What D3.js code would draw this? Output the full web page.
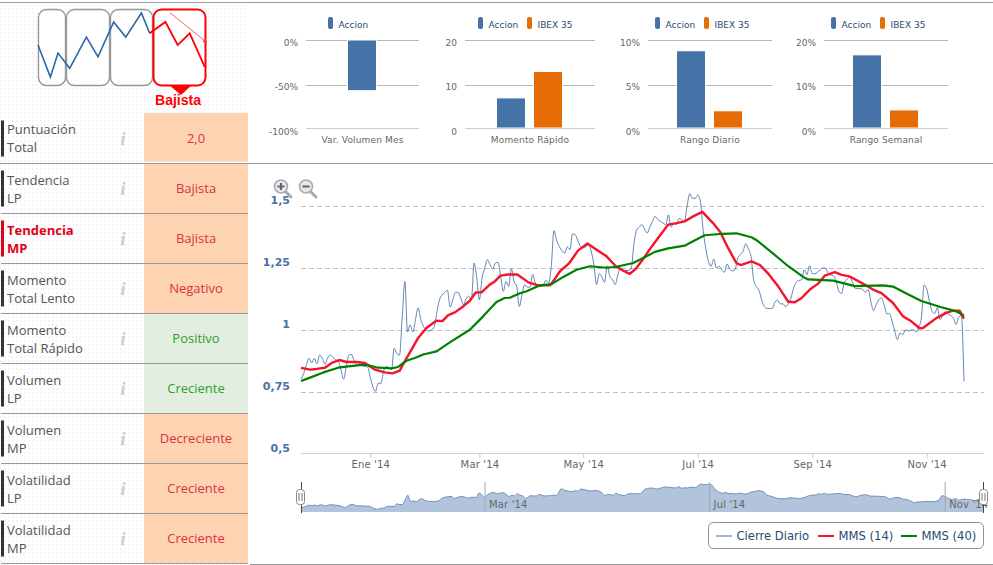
<!DOCTYPE html>
<html><head><meta charset="utf-8">
<script src="https://cdnjs.cloudflare.com/ajax/libs/d3/7.8.5/d3.min.js"></script>
<style>html,body{margin:0;padding:0;background:#fff}svg{display:block}text{text-rendering:auto}</style>
</head><body><svg id="c" width="993" height="565"></svg>
<script>
// ---------- DATA ----------
const closeValues=[.802,.824,.858,.886,.867,.886,.864,.899,.886,.862,.887,.899,.890,.880,.875,.840,.802,.853,.899,.901,.874,.860,.863,.855,.853,.851,.810,.770,.753,.786,.784,.833,.853,.849,.840,.926,.905,.899,1.048,1.196,.992,1.020,.992,1.042,1.089,1.042,1.015,1.001,.996,1.001,1.012,1.069,1.122,1.141,1.152,1.160,1.093,1.122,1.152,1.152,1.129,1.102,1.125,1.136,1.122,1.270,1.210,1.122,1.210,1.250,1.284,1.263,1.246,1.270,1.273,1.216,1.156,1.196,1.176,1.247,1.196,1.176,1.095,1.142,1.183,1.173,1.173,1.224,1.190,1.176,1.176,1.183,1.200,1.190,1.257,1.401,1.362,1.337,1.320,1.310,1.335,1.324,1.388,1.384,1.360,1.337,1.331,1.335,1.344,1.317,1.263,1.183,1.227,1.214,1.192,1.259,1.216,1.203,1.183,1.223,1.250,1.243,1.240,1.240,1.246,1.344,1.402,1.415,1.425,1.407,1.391,1.415,1.438,1.458,1.445,1.438,1.431,1.425,1.464,1.415,1.431,1.425,1.450,1.445,1.438,1.499,1.550,1.531,1.531,1.544,1.519,1.405,1.331,1.277,1.257,1.286,1.250,1.257,1.243,1.233,1.266,1.246,1.238,1.243,1.290,1.304,1.317,1.348,1.327,1.297,1.203,1.176,1.160,1.122,1.095,1.087,1.087,1.087,1.112,1.120,1.105,1.106,1.094,1.106,1.129,1.169,1.192,1.200,1.202,1.243,1.223,1.259,1.227,1.227,1.233,1.243,1.250,1.250,1.227,1.222,1.219,1.196,1.156,1.147,1.190,1.203,1.214,1.196,1.169,1.167,1.167,1.163,1.152,1.163,1.116,1.078,1.102,1.122,1.129,1.102,1.066,1.066,1.035,.995,.961,.988,.981,1.001,.996,.999,1.001,.991,1.012,1.048,1.181,1.165,1.116,1.075,1.066,1.090,1.042,1.058,1.075,1.066,1.058,1.048,1.022,1.052,1.058,.793];
const mms14Days=[0,3.4,5.9,9,11.5,14.4,17.1,20.9,24,27.8,31.5,34.4,37.1,38.6,41.5,44,47.1,50.9,53.1,55.3,57.8,60.9,63.4,65.6,67.8,70.9,72.8,74.9,77.8,81.25,85.4,89.1,93.5,95.4,97.25,100.75,104.1,107.6,111,114.75,118.25,121,123.5,125.75,128.5,131.6,134.1,137.9,141,144.1,147.25,150.75,154.75,157.5,160.4,163.5,165.1,169.2,172.35,175.5,179.2,183,185.5,188,191.1,194.2,196.7,200.5,203,206.1,211.7,214.85,218,222.35,226.1,229.2,232.35,233.6,238.6,242.35,244.85,247.35,249];
const mms14Values=[.847,.84,.843,.848,.867,.879,.871,.871,.867,.84,.829,.825,.836,.867,.921,.968,1.008,1.038,1.036,1.06,1.071,1.095,1.118,1.151,1.152,1.183,1.196,1.219,1.224,1.224,1.192,1.18,1.18,1.207,1.237,1.27,1.321,1.349,1.324,1.297,1.257,1.239,1.226,1.247,1.286,1.335,1.371,1.425,1.431,1.438,1.458,1.476,1.431,1.394,1.331,1.27,1.262,1.277,1.262,1.227,1.176,1.114,1.112,1.129,1.163,1.187,1.219,1.233,1.222,1.216,1.183,1.163,1.149,1.109,1.055,1.035,1.007,1.008,1.048,1.069,1.078,1.078,1.046];
const mms40Days=[0,3.4,8.4,14,17.75,22.1,24.6,29,34,36.5,39.6,42.75,45.9,50.9,55.9,63.4,68.4,73.4,76.5,78.4,82.25,84.75,89.75,94.1,98.5,103.5,108.5,114.75,118.5,124.75,128.5,132.9,137.9,144.1,147.25,151.6,158.5,163.5,169.2,171.1,177.35,182.35,188.6,190.5,199.85,208,218.6,222.35,227.35,233,239.85,246.1,249];
const mms40Values=[.794,.808,.829,.848,.853,.858,.86,.848,.845,.851,.876,.887,.901,.914,.95,1.001,1.055,1.113,1.129,1.13,1.148,1.156,1.18,1.185,1.214,1.243,1.257,1.251,1.255,1.27,1.29,1.315,1.329,1.34,1.358,1.382,1.388,1.39,1.374,1.362,1.308,1.263,1.214,1.204,1.199,1.177,1.18,1.175,1.147,1.117,1.094,1.075,1.059];
const yTicks=[.5,.75,1,1.25,1.5];
const yTickLabels=["0,5","0,75","1","1,25","1,5"];
const monthDays=[26,67,106,149,192,235];
const monthLabels=["Ene '14","Mar '14","May '14","Jul '14","Sep '14","Nov '14"];
const navDays=[67,149,235];
const navLabels=["Mar '14","Jul '14","Nov '14"];
const seriesNames=["Cierre Diario","MMS (14)","MMS (40)"];

const miniTitles=["Var. Volumen Mes","Momento Rápido","Rango Diario","Rango Semanal"];
const miniAccion=[-56.6,7,8.8,16.7];
const miniIbex=[null,13,2,4.2];
const miniTicks=[[-100,-50,0],[0,10,20],[0,5,10],[0,10,20]];
const miniSuffix=["%","","%","%"];
const miniSeries=["Accion","IBEX 35"];

const rowTitles=[["Puntuación","Total"],["Tendencia","LP"],["Tendencia","MP"],["Momento","Total Lento"],["Momento","Total Rápido"],["Volumen","LP"],["Volumen","MP"],["Volatilidad","LP"],["Volatilidad","MP"]];
const rowValues=["2,0","Bajista","Bajista","Negativo","Positivo","Creciente","Decreciente","Creciente","Creciente"];
const rowGood=[false,false,false,false,true,true,false,false,false];
const rowActive=2;

const thumbBlueT=[0,12.4,20,31.7,48.4,60,75.7,87.7,103.4,111.7];
const thumbBlueV=[52.6,10.5,42,22,63,37,83,63,94.7,68];
const thumbRedT=[111.7,127.4,139.7,151.7,166.7];
const thumbRedV=[68,83,52.6,68,23.7];
const thumbArrowT=[132,167];
const thumbArrowV=[95,58];
const thumbPhases=[[0,28],[28,72],[72,115],[115,168]];
const thumbLabel="Bajista";

// ---------- SETUP ----------
const svg=d3.select("#c");
const MINI="'DejaVu Sans',sans-serif", OS="'Open Sans',sans-serif";
const defs=svg.append("defs");
const pat=defs.append("pattern").attr("id","dots").attr("width",4).attr("height",4).attr("patternUnits","userSpaceOnUse");
pat.append("rect").attr("width",4).attr("height",4).attr("fill","#fff");
pat.append("rect").attr("width",2).attr("height",2).attr("fill","#f5f5f5");
svg.append("rect").attr("width",993).attr("height",565).attr("fill","#fff");
svg.append("rect").attr("x",0).attr("y",3).attr("width",248).attr("height",562).attr("fill","url(#dots)");

// rules
const rules=svg.append("g").attr("stroke","#999").attr("stroke-width",1);
[[0,993,2.5],[0,993,163.5],[250,993,564.5]].forEach(r=>rules.append("line").attr("x1",r[0]).attr("x2",r[1]).attr("y1",r[2]).attr("y2",r[2]));

// ---------- THUMBNAIL ----------
const tx=d3.scaleLinear().domain([0,168]).range([38,206]);
const ty=d3.scaleLinear().domain([0,100]).range([85,9]);
const th=svg.append("g");
thumbPhases.forEach((p,i)=>{
  const last=i===thumbPhases.length-1;
  if(last) th.append("path").attr("d",d3.line().x(d=>d[0]).y(d=>d[1])([[168,84],[193,84],[181,95]])+"Z").attr("fill","#f00");
  th.append("rect").attr("x",tx(p[0])+.5).attr("y",9.5).attr("width",tx(p[1])-tx(p[0])-1).attr("height",76)
    .attr("rx",8).attr("fill","#fff").attr("stroke",last?"#f00":"#999").attr("stroke-width",last?2:1.4);
});
const tl=d3.line().x(d=>tx(d[0])).y(d=>ty(d[1]));
th.append("path").attr("d",tl(d3.zip(thumbBlueT,thumbBlueV))).attr("fill","none").attr("stroke","#2a66a8").attr("stroke-width",1.6);
th.append("path").attr("d",tl(d3.zip(thumbRedT,thumbRedV))).attr("fill","none").attr("stroke","#f00").attr("stroke-width",1.8);
th.append("path").attr("d",tl(d3.zip(thumbArrowT,thumbArrowV))).attr("fill","none").attr("stroke","#f33").attr("stroke-width",.8);
th.append("path").attr("d",d3.symbol(d3.symbolTriangle,10)()).attr("transform",`translate(${tx(thumbArrowT[1])},${ty(thumbArrowV[1])}) rotate(128)`).attr("fill","#f33");
th.append("text").attr("x",178).attr("y",105).attr("text-anchor","middle").attr("font-family","'Liberation Sans',sans-serif").attr("font-weight","bold").attr("font-size",14).attr("fill","#f00").text(thumbLabel);

// ---------- TABLE ----------
const rows=svg.append("g").selectAll("g").data(rowTitles).join("g").attr("transform",(d,i)=>`translate(0,${50*i})`);
rows.append("rect").attr("x",144).attr("y",(d,i)=>i?114:113).attr("width",104).attr("height",(d,i)=>i?49:48.7).attr("fill",(d,i)=>rowGood[i]?"#e2efe0":"#fdd3b1");
rows.append("line").attr("x1",1).attr("x2",248).attr("y1",163.5).attr("y2",163.5).attr("stroke","#999");
rows.append("rect").attr("x",1).attr("y",120.5).attr("width",3).attr("height",36).attr("fill",(d,i)=>i===rowActive?"#e2001a":"#333");
rows.each(function(d,i){
  const g=d3.select(this);
  d.forEach((t,j)=>g.append("text").attr("x",7).attr("y",(i?134.5:133.5)+18*j).attr("font-family",OS).attr("font-size",13)
    .attr("font-weight",i===rowActive?"bold":"normal").attr("fill",i===rowActive?"#e2001a":"#555").text(t));
});
rows.append("text").attr("x",123).attr("y",145).attr("text-anchor","middle").attr("font-family","'Liberation Serif',serif").attr("font-style","italic").attr("font-weight","bold").attr("font-size",18).attr("fill","#ccc").text("i");
rows.append("text").attr("x",196).attr("y",142.5).attr("text-anchor","middle").attr("font-family",OS).attr("font-size",13).attr("fill",(d,i)=>rowGood[i]?"#2f9e1f":"#dc3240").text((d,i)=>rowValues[i]);

// ---------- MINI BAR CHARTS ----------
const miniLayout=[{l:306,r:419,cx:362,leg:[328]},{l:465,r:595,cx:529.5,leg:[478,527]},{l:648,r:772,cx:709.5,leg:[655,704]},{l:824,r:948,cx:885.5,leg:[831,880]}];
const miniColor=["#4673a7","#e66c05"];
const miniLabelDy=[6.5,4.5,5.5];
miniTitles.forEach((title,i)=>{
  const L=miniLayout[i], g=svg.append("g");
  const t=miniTicks[i];
  const y=d3.scaleLinear().domain(t).range([128,85,40]);
  const ax=d3.axisLeft(y).tickValues(t).tickSize(-(L.r-L.l)).tickPadding(8).tickFormat(v=>d3.format("d")(v).replace("−","-")+miniSuffix[i]);
  const a=g.append("g").attr("transform",`translate(${L.l},0)`).call(ax);
  a.select(".domain").remove();
  a.selectAll("line").attr("stroke",v=>v===t[0]?"#c0d0e0":"#b8b8b8");
  a.selectAll("text").attr("dy",null).attr("y",(v,j)=>miniLabelDy[j]).attr("font-family",MINI).attr("font-size",9).attr("fill","#666");
  const vals=miniIbex[i]===null?[miniAccion[i]]:[miniAccion[i],miniIbex[i]];
  const band=d3.scaleBand().domain(d3.range(vals.length)).paddingInner(vals.length===1?0:9/37).paddingOuter(0)
    .range(vals.length===1?[L.cx-14,L.cx+14]:[L.cx-32.5,L.cx+32.5]);
  const base=y(0);
  g.selectAll("rect.b").data(vals).join("rect").attr("class","b")
    .attr("x",(d,j)=>band(j)-.5).attr("width",band.bandwidth()+1)
    .attr("y",d=>Math.min(y(d),base)).attr("height",d=>Math.abs(y(d)-base))
    .attr("fill",(d,j)=>miniColor[j]).attr("stroke","#fff").attr("stroke-width",1);
  if(t[0]===0) g.append("line").attr("x1",L.l).attr("x2",L.r).attr("y1",128.5).attr("y2",128.5).attr("stroke","#c0d0e0");
  g.append("text").attr("x",L.cx+.5).attr("y",143).attr("text-anchor","middle").attr("font-family",MINI).attr("font-size",9).attr("letter-spacing",.15).attr("fill","#666").text(title);
  L.leg.forEach((lx,j)=>{
    g.append("rect").attr("x",lx).attr("y",17).attr("width",5).attr("height",12).attr("rx",2).attr("fill",miniColor[j]);
    g.append("text").attr("x",lx+10.5).attr("y",28).attr("font-family",MINI).attr("font-size",9).attr("fill","#274b6d").text(miniSeries[j]);
  });
});

// ---------- MAIN CHART ----------
const x=d3.scaleLinear().domain([0,249]).range([301,964]);
const y=d3.scaleLinear().domain([.5,1.5]).range([454,206]);
const left=301,right=984;
const yAx=d3.axisLeft(y).tickValues(yTicks).tickSize(-(right-left)).tickPadding(11).tickFormat((v,i)=>yTickLabels[i]);
const ya=svg.append("g").attr("transform",`translate(${left},0)`).call(yAx);
ya.select(".domain").remove();
ya.selectAll("line").attr("stroke",v=>v===.5?"none":"#c0c0c0").attr("stroke-dasharray","5,3");
ya.selectAll("text").attr("dy",null).attr("y",-3).attr("font-family",MINI).attr("font-weight","bold").attr("font-size",11).attr("fill","#4572a7");
const xAx=d3.axisBottom(x).tickValues(monthDays).tickSize(5).tickPadding(3).tickFormat((v,i)=>monthLabels[i]);
const xa=svg.append("g").attr("transform","translate(0,453)").call(xAx);
xa.select(".domain").attr("d",`M${left},0.5H${right}`).attr("stroke","#c0d0e0");
xa.selectAll("line").attr("stroke","#c0d0e0");
xa.selectAll("text").attr("dy",null).attr("y",15).attr("font-family",MINI).attr("font-size",10).attr("letter-spacing",.15).attr("fill","#666");

const idx=closeValues.map((v,i)=>i);
const lineGen=d3.line().x(d=>x(d[0])).y(d=>y(d[1])).curve(d3.curveMonotoneX);
const maGen=d3.line().x(d=>x(d[0])).y(d=>y(d[1]));
const seriesColor=["#4572a7","#f5142d","#008000"];
svg.append("path").attr("d",lineGen(d3.zip(idx,closeValues))).attr("fill","none").attr("stroke",seriesColor[0]).attr("stroke-opacity",.85).attr("stroke-width",1);
svg.append("path").attr("d",maGen(d3.zip(mms14Days,mms14Values))).attr("fill","none").attr("stroke",seriesColor[1]).attr("stroke-width",2.4).attr("stroke-linejoin","round");
svg.append("path").attr("d",maGen(d3.zip(mms40Days,mms40Values))).attr("fill","none").attr("stroke",seriesColor[2]).attr("stroke-width",2.2).attr("stroke-linejoin","round");

// zoom icons
[[281,"+"],[306,"-"]].forEach(([cx,s])=>{
  const g=svg.append("g");
  g.append("line").attr("x1",cx+4).attr("y1",191).attr("x2",cx+10).attr("y2",197).attr("stroke","#aaa").attr("stroke-width",3).attr("stroke-linecap","round");
  g.append("circle").attr("cx",cx).attr("cy",186.5).attr("r",6.5).attr("fill","#e8e8e8").attr("stroke","#aaa").attr("stroke-width",1.6);
  g.append("line").attr("x1",cx-3.5).attr("x2",cx+3.5).attr("y1",186.5).attr("y2",186.5).attr("stroke","#54697e").attr("stroke-width",2);
  if(s==="+") g.append("line").attr("x1",cx).attr("x2",cx).attr("y1",183).attr("y2",190).attr("stroke","#54697e").attr("stroke-width",2);
});

// ---------- NAVIGATOR ----------
const nx=d3.scaleLinear().domain([0,249]).range([301,983]);
const ny=d3.scaleLinear().domain([.67,1.55]).range([512,484]);
const nArea=d3.area().x(d=>nx(d[0])).y0(512).y1(d=>ny(d[1])).curve(d3.curveMonotoneX);
const nLine=d3.line().x(d=>nx(d[0])).y(d=>ny(d[1])).curve(d3.curveMonotoneX);
const nData=d3.zip(idx,closeValues);
svg.append("path").attr("d",nArea(nData)).attr("fill","#b2c4dc");
svg.append("path").attr("d",nLine(nData)).attr("fill","none").attr("stroke","#6f8fb8").attr("stroke-width",1);
const nAx=d3.axisBottom(nx).tickValues(navDays).tickSize(30).tickFormat((v,i)=>navLabels[i]);
const na=svg.append("g").attr("transform","translate(0,482)").call(nAx);
na.select(".domain").remove();
na.selectAll("line").attr("stroke","#a0a8b0");
na.selectAll("text").attr("dy",null).attr("y",26).attr("x",4).attr("text-anchor","start").attr("font-family",MINI).attr("font-size",10).attr("letter-spacing",.15).attr("fill","#666");
[[301,300],[983,983]].forEach(([hx,bx])=>{
  const g=svg.append("g");
  g.append("line").attr("x1",hx+.5).attr("x2",hx+.5).attr("y1",482).attr("y2",513).attr("stroke","#444");
  g.append("rect").attr("x",bx-3.5).attr("y",489.5).attr("width",8).attr("height",15).attr("rx",3).attr("fill","#fff").attr("stroke","#888");
  [-1,2].forEach(o=>g.append("line").attr("x1",bx+o).attr("x2",bx+o).attr("y1",493).attr("y2",501).attr("stroke","#777"));
});

// ---------- LEGEND ----------
const leg=svg.append("g");
leg.append("rect").attr("x",708.5).attr("y",522.5).attr("width",275).attr("height",26).attr("rx",5).attr("fill","#fff").attr("stroke","#909090");
const legLine=[716,818,901], legCol=["#9fb6d3",seriesColor[1],seriesColor[2]];
seriesNames.forEach((n,i)=>{
  leg.append("line").attr("x1",legLine[i]).attr("x2",legLine[i]+16).attr("y1",536).attr("y2",536).attr("stroke",legCol[i]).attr("stroke-width",2);
  leg.append("text").attr("x",legLine[i]+20.5).attr("y",540).attr("font-family",MINI).attr("font-size",11.6).attr("fill","#274b6d").text(n);
});
</script></body></html>
